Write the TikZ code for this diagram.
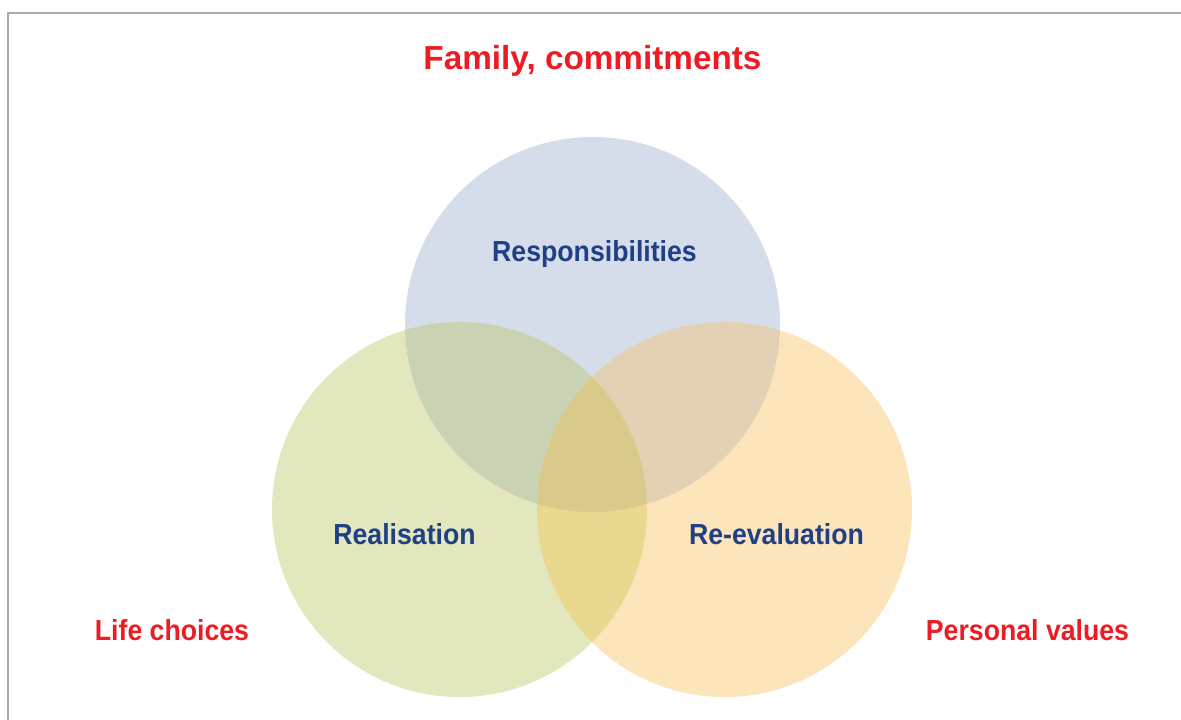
\documentclass[tikz,border=0pt]{standalone}
\usepackage{fontspec}
\setmainfont[FakeStretch=0.92]{Liberation Sans}
\newfontfamily\titlefont{Liberation Sans}
\definecolor{cblue}{HTML}{D5DCEA}
\definecolor{cgreen}{HTML}{E3E7BD}
\definecolor{corange}{HTML}{FDE5BB}
\definecolor{cbg}{HTML}{CAD2B4}
\definecolor{cbo}{HTML}{E3D1B5}
\definecolor{cgo}{HTML}{E9D890}
\definecolor{call}{HTML}{D9CA8B}
\definecolor{tred}{HTML}{ED1C24}
\definecolor{tblue}{HTML}{1F3F86}
\definecolor{frame}{HTML}{A7ABAF}
\tikzset{
  redlabel/.style={text=tred, font=\bfseries\fontsize{29}{33}\selectfont, inner sep=0pt, anchor=base},
  bluelabel/.style={text=tblue, font=\bfseries\fontsize{29}{33}\selectfont, inner sep=0pt, anchor=base},
}
\begin{document}
\begin{tikzpicture}[x=1pt,y=-1pt]
\useasboundingbox (0,0) rectangle (1181,720);
\fill[white] (0,0) rectangle (1181,720);
\draw[frame, line width=1.8pt] (8,720) -- (8,13) -- (1181,13);
\def\cT{(592.5,324.5) circle (187.5)}
\def\cL{(459.5,509.5) circle (187.5)}
\def\cR{(724.5,509.5) circle (187.5)}
\fill[cblue] \cT;
\fill[cgreen] \cL;
\fill[corange] \cR;
\begin{scope}\clip \cT; \fill[cbg] \cL; \fill[cbo] \cR; \end{scope}
\begin{scope}\clip \cL; \fill[cgo] \cR; \end{scope}
\begin{scope}\clip \cT; \clip \cL; \fill[call] \cR; \end{scope}
\node[redlabel, font=\titlefont\bfseries\fontsize{33.3}{37}\selectfont] (title) at (592.5,69) {Family, commitments};
\node[bluelabel] (resp) at (594.5,261) {Responsibilities};
\node[bluelabel] (real) at (404.5,544) {Realisation};
\node[bluelabel] (reev) at (776.5,544) {Re-evaluation};
\node[redlabel] (life) at (172,640.5) {Life choices};
\node[redlabel] (pers) at (1027.5,640) {Personal values};
\end{tikzpicture}
\end{document}
